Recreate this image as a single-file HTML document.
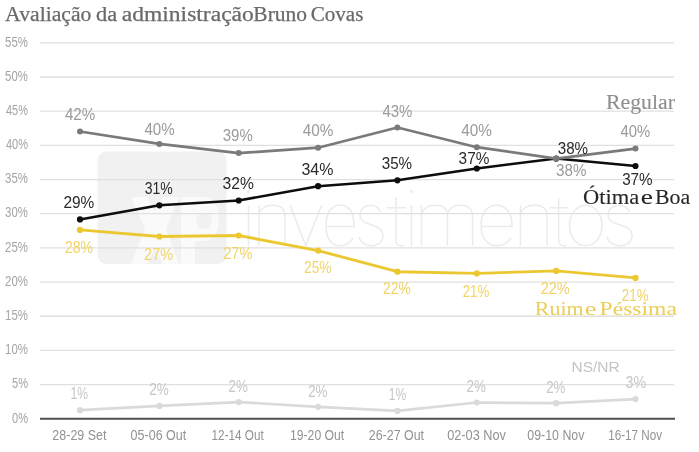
<!DOCTYPE html>
<html><head><meta charset="utf-8">
<style>
html,body{margin:0;padding:0;background:#fff;width:699px;height:452px;overflow:hidden}
svg{display:block;will-change:transform}
</style></head><body>
<svg width="699" height="452" viewBox="0 0 699 452">
<rect width="699" height="452" fill="#fff"/>
<rect x="97.5" y="151.5" width="129" height="112.5" rx="9" fill="#f1f1f1"/>
<path d="M131,197 L147,197 L155,211 L163,197 L179,197 L166,229 L179,264 L163,264 L155,248 L147,264 L131,264 L145,229 Z" fill="#fafafa"/>
<path d="M181,197 H204 C215,197 219,208 219,220 C219,233 212,241 204,241 H195 V264 H181 Z" fill="#fafafa"/>
<circle cx="204" cy="221" r="8" fill="#f1f1f1"/>
<g fill="none" stroke="#ebebeb" stroke-width="1.5"><path d="M248.5,205.2 V245.8"/><path d="M259,205.2 V245.8"/><path d="M259,214.2 C261,207.7 265,205.2 272.5,205.2 C282,205.2 285,209.2 285,217.2 V245.8"/><path d="M290,205.2 L305.7,245.8 L321.5,205.2"/><path d="M327,226.5 H354 C354,211.2 348.0,205.2 340.0,205.2 C331.0,205.2 326,213.2 326,225.5 C326,237.8 331.0,245.8 340.0,245.8 C346.0,245.8 350,242.8 353,237.8"/><path d="M381,212.2 C378,207.2 375.8,205.2 371.0,205.2 C364,205.2 360,210.2 360,215.2 C360,227.2 383,222.2 383,235.8 C383,242.8 377.0,245.8 371.0,245.8 C365,245.8 360,241.8 359,236.8"/><path d="M396,197 V239.8 C396,244.8 398,245.8 401,245.8 H404 M386.6,207.7 H406"/><path d="M411.5,205.2 V245.8"/><path d="M421.5,205.2 V245.8"/><path d="M421.5,214.2 C423.5,207.7 427.5,205.2 434.95,205.2 C444.4,205.2 447.4,209.2 447.4,217.2 V245.8"/><path d="M447.4,214.2 C449.4,207.7 453.4,205.2 460.5,205.2 C469.6,205.2 472.6,209.2 472.6,217.2 V245.8"/><path d="M482,226.5 H512 C512,211.2 504.5,205.2 496.5,205.2 C487.5,205.2 481,213.2 481,225.5 C481,237.8 487.5,245.8 496.5,245.8 C502.5,245.8 508,242.8 511,237.8"/><path d="M520.4,205.2 V245.8"/><path d="M520.4,214.2 C522.4,207.7 526.4,205.2 534.2,205.2 C544,205.2 547,209.2 547,217.2 V245.8"/><path d="M558.7,198 V239.8 C558.7,244.8 560.7,245.8 563.7,245.8 H566.7 M549.4,207.7 H568"/><path d="M585.75,205.2 A16.25,20.30000000000001 0 1 0 585.75,245.8 A16.25,20.30000000000001 0 1 0 585.75,205.2"/><path d="M630,212.2 C627,207.2 624.5,205.2 619.5,205.2 C612,205.2 608,210.2 608,215.2 C608,227.2 632,222.2 632,235.8 C632,242.8 625.75,245.8 619.5,245.8 C613,245.8 608,241.8 607,236.8"/></g><circle cx="248.5" cy="191.5" r="1.5" fill="#ececec"/><circle cx="411.5" cy="191.5" r="1.5" fill="#ececec"/>
<line x1="40" x2="674" y1="384.62" y2="384.62" stroke="#e0e0e0" stroke-width="1.3"/>
<line x1="40" x2="674" y1="350.44" y2="350.44" stroke="#e0e0e0" stroke-width="1.3"/>
<line x1="40" x2="674" y1="316.26" y2="316.26" stroke="#e0e0e0" stroke-width="1.3"/>
<line x1="40" x2="674" y1="282.08" y2="282.08" stroke="#e0e0e0" stroke-width="1.3"/>
<line x1="40" x2="674" y1="247.90" y2="247.90" stroke="#e0e0e0" stroke-width="1.3"/>
<line x1="40" x2="674" y1="213.72" y2="213.72" stroke="#e0e0e0" stroke-width="1.3"/>
<line x1="40" x2="674" y1="179.54" y2="179.54" stroke="#e0e0e0" stroke-width="1.3"/>
<line x1="40" x2="674" y1="145.36" y2="145.36" stroke="#e0e0e0" stroke-width="1.3"/>
<line x1="40" x2="674" y1="111.18" y2="111.18" stroke="#e0e0e0" stroke-width="1.3"/>
<line x1="40" x2="674" y1="77.00" y2="77.00" stroke="#e0e0e0" stroke-width="1.3"/>
<line x1="40" x2="674" y1="42.82" y2="42.82" stroke="#e0e0e0" stroke-width="1.3"/>

<line x1="40" x2="675" y1="418.8" y2="418.8" stroke="#505050" stroke-width="2"/>
<polyline points="80.0,410.2 159.4,405.9 238.7,402.1 318.1,406.8 397.4,410.9 476.8,402.5 556.2,403.2 635.5,399.1" fill="none" stroke="#dadada" stroke-width="2.7" stroke-linejoin="round"/>
<circle cx="80.0" cy="410.2" r="3.1" fill="#dadada"/>
<circle cx="159.4" cy="405.9" r="3.1" fill="#dadada"/>
<circle cx="238.7" cy="402.1" r="3.1" fill="#dadada"/>
<circle cx="318.1" cy="406.8" r="3.1" fill="#dadada"/>
<circle cx="397.4" cy="410.9" r="3.1" fill="#dadada"/>
<circle cx="476.8" cy="402.5" r="3.1" fill="#dadada"/>
<circle cx="556.2" cy="403.2" r="3.1" fill="#dadada"/>
<circle cx="635.5" cy="399.1" r="3.1" fill="#dadada"/>

<polyline points="80.0,229.9 159.4,236.5 238.7,235.5 318.1,250.6 397.4,271.7 476.8,273.4 556.2,270.9 635.5,277.9" fill="none" stroke="#ebc832" stroke-width="2.9" stroke-linejoin="round"/>
<circle cx="80.0" cy="229.9" r="3.1" fill="#ebc832"/>
<circle cx="159.4" cy="236.5" r="3.1" fill="#ebc832"/>
<circle cx="238.7" cy="235.5" r="3.1" fill="#ebc832"/>
<circle cx="318.1" cy="250.6" r="3.1" fill="#ebc832"/>
<circle cx="397.4" cy="271.7" r="3.1" fill="#ebc832"/>
<circle cx="476.8" cy="273.4" r="3.1" fill="#ebc832"/>
<circle cx="556.2" cy="270.9" r="3.1" fill="#ebc832"/>
<circle cx="635.5" cy="277.9" r="3.1" fill="#ebc832"/>

<polyline points="80.0,219.4 159.4,205.3 238.7,200.5 318.1,186.2 397.4,180.3 476.8,168.5 556.2,158.6 635.5,166.0" fill="none" stroke="#0d0d0d" stroke-width="2.5" stroke-linejoin="round"/>
<circle cx="80.0" cy="219.4" r="3.1" fill="#0d0d0d"/>
<circle cx="159.4" cy="205.3" r="3.1" fill="#0d0d0d"/>
<circle cx="238.7" cy="200.5" r="3.1" fill="#0d0d0d"/>
<circle cx="318.1" cy="186.2" r="3.1" fill="#0d0d0d"/>
<circle cx="397.4" cy="180.3" r="3.1" fill="#0d0d0d"/>
<circle cx="476.8" cy="168.5" r="3.1" fill="#0d0d0d"/>
<circle cx="556.2" cy="158.6" r="3.1" fill="#0d0d0d"/>
<circle cx="635.5" cy="166.0" r="3.1" fill="#0d0d0d"/>

<polyline points="80.0,131.5 159.4,143.9 238.7,153.1 318.1,147.7 397.4,127.5 476.8,147.2 556.2,158.6 635.5,148.6" fill="none" stroke="#7a7a7a" stroke-width="2.7" stroke-linejoin="round"/>
<circle cx="80.0" cy="131.5" r="3.0" fill="#7a7a7a"/>
<circle cx="159.4" cy="143.9" r="3.0" fill="#7a7a7a"/>
<circle cx="238.7" cy="153.1" r="3.0" fill="#7a7a7a"/>
<circle cx="318.1" cy="147.7" r="3.0" fill="#7a7a7a"/>
<circle cx="397.4" cy="127.5" r="3.0" fill="#7a7a7a"/>
<circle cx="476.8" cy="147.2" r="3.0" fill="#7a7a7a"/>
<circle cx="556.2" cy="158.6" r="3.0" fill="#7a7a7a"/>
<circle cx="635.5" cy="148.6" r="3.0" fill="#7a7a7a"/>

<text x="5.14" y="20.60" font-family="Liberation Serif" font-size="20.5" fill="#6a6a6a" stroke="#6a6a6a" stroke-width="0.25" textLength="86.27" lengthAdjust="spacingAndGlyphs">Avaliação</text>
<text x="96.11" y="20.60" font-family="Liberation Serif" font-size="20.5" fill="#6a6a6a" stroke="#6a6a6a" stroke-width="0.25" textLength="21.19" lengthAdjust="spacingAndGlyphs">da</text>
<text x="121.75" y="20.60" font-family="Liberation Serif" font-size="20.5" fill="#6a6a6a" stroke="#6a6a6a" stroke-width="0.25" textLength="132.08" lengthAdjust="spacingAndGlyphs">administração</text>
<text x="253.35" y="20.60" font-family="Liberation Serif" font-size="20.5" fill="#6a6a6a" stroke="#6a6a6a" stroke-width="0.25" textLength="53.61" lengthAdjust="spacingAndGlyphs">Bruno</text>
<text x="310.67" y="20.60" font-family="Liberation Serif" font-size="20.5" fill="#6a6a6a" stroke="#6a6a6a" stroke-width="0.25" textLength="52.79" lengthAdjust="spacingAndGlyphs">Covas</text>
<text x="606.04" y="108.60" font-family="Liberation Serif" font-size="20.5" fill="#8e8e8e" stroke="#8e8e8e" stroke-width="0.1" textLength="68.96" lengthAdjust="spacingAndGlyphs">Regular</text>
<text x="582.99" y="203.70" font-family="Liberation Serif" font-size="20.3" fill="#262626" stroke="#262626" stroke-width="0.1" textLength="56.19" lengthAdjust="spacingAndGlyphs">Ótima</text>
<text x="640.86" y="203.70" font-family="Liberation Serif" font-size="20.3" fill="#262626" stroke="#262626" stroke-width="0.1" textLength="12.11" lengthAdjust="spacingAndGlyphs">e</text>
<text x="654.92" y="203.70" font-family="Liberation Serif" font-size="20.3" fill="#262626" stroke="#262626" stroke-width="0.1" textLength="35.20" lengthAdjust="spacingAndGlyphs">Boa</text>
<text x="534.89" y="314.50" font-family="Liberation Serif" font-size="19.8" fill="#ecce55" textLength="48.78" lengthAdjust="spacingAndGlyphs">Ruim</text>
<text x="584.87" y="314.50" font-family="Liberation Serif" font-size="19.8" fill="#ecce55" textLength="11.67" lengthAdjust="spacingAndGlyphs">e</text>
<text x="599.61" y="314.50" font-family="Liberation Serif" font-size="19.8" fill="#ecce55" textLength="77.30" lengthAdjust="spacingAndGlyphs">Péssima</text>
<text x="571.57" y="371.70" font-family="Liberation Sans" font-size="15" fill="#c4c4c4" textLength="48.12" lengthAdjust="spacingAndGlyphs">NS/NR</text>
<text x="12.11" y="422.50" font-family="Liberation Sans" font-size="14" fill="#a4a4a4" textLength="15.97" lengthAdjust="spacingAndGlyphs">0%</text>
<text x="12.11" y="388.32" font-family="Liberation Sans" font-size="14" fill="#a4a4a4" textLength="15.97" lengthAdjust="spacingAndGlyphs">5%</text>
<text x="5.09" y="354.14" font-family="Liberation Sans" font-size="14" fill="#a4a4a4" textLength="22.84" lengthAdjust="spacingAndGlyphs">10%</text>
<text x="5.09" y="319.96" font-family="Liberation Sans" font-size="14" fill="#a4a4a4" textLength="22.84" lengthAdjust="spacingAndGlyphs">15%</text>
<text x="5.09" y="285.78" font-family="Liberation Sans" font-size="14" fill="#a4a4a4" textLength="22.84" lengthAdjust="spacingAndGlyphs">20%</text>
<text x="5.09" y="251.60" font-family="Liberation Sans" font-size="14" fill="#a4a4a4" textLength="22.84" lengthAdjust="spacingAndGlyphs">25%</text>
<text x="5.09" y="217.42" font-family="Liberation Sans" font-size="14" fill="#a4a4a4" textLength="22.84" lengthAdjust="spacingAndGlyphs">30%</text>
<text x="5.09" y="183.24" font-family="Liberation Sans" font-size="14" fill="#a4a4a4" textLength="22.84" lengthAdjust="spacingAndGlyphs">35%</text>
<text x="5.90" y="149.06" font-family="Liberation Sans" font-size="14" fill="#a4a4a4" textLength="22.02" lengthAdjust="spacingAndGlyphs">40%</text>
<text x="5.90" y="114.88" font-family="Liberation Sans" font-size="14" fill="#a4a4a4" textLength="22.02" lengthAdjust="spacingAndGlyphs">45%</text>
<text x="5.09" y="80.70" font-family="Liberation Sans" font-size="14" fill="#a4a4a4" textLength="22.84" lengthAdjust="spacingAndGlyphs">50%</text>
<text x="5.09" y="46.52" font-family="Liberation Sans" font-size="14" fill="#a4a4a4" textLength="22.84" lengthAdjust="spacingAndGlyphs">55%</text>
<text x="52.37" y="440.30" font-family="Liberation Sans" font-size="14.1" fill="#929292" textLength="54.10" lengthAdjust="spacingAndGlyphs">28-29 Set</text>
<text x="130.61" y="440.30" font-family="Liberation Sans" font-size="14.1" fill="#929292" textLength="55.61" lengthAdjust="spacingAndGlyphs">05-06 Out</text>
<text x="211.62" y="440.30" font-family="Liberation Sans" font-size="14.1" fill="#929292" textLength="52.07" lengthAdjust="spacingAndGlyphs">12-14 Out</text>
<text x="289.98" y="440.30" font-family="Liberation Sans" font-size="14.1" fill="#929292" textLength="54.30" lengthAdjust="spacingAndGlyphs">19-20 Out</text>
<text x="368.77" y="440.30" font-family="Liberation Sans" font-size="14.1" fill="#929292" textLength="55.31" lengthAdjust="spacingAndGlyphs">26-27 Out</text>
<text x="447.15" y="440.30" font-family="Liberation Sans" font-size="14.1" fill="#929292" textLength="58.83" lengthAdjust="spacingAndGlyphs">02-03 Nov</text>
<text x="527.32" y="440.30" font-family="Liberation Sans" font-size="14.1" fill="#929292" textLength="57.11" lengthAdjust="spacingAndGlyphs">09-10 Nov</text>
<text x="608.17" y="440.30" font-family="Liberation Sans" font-size="14.1" fill="#929292" textLength="53.85" lengthAdjust="spacingAndGlyphs">16-17 Nov</text>
<text x="64.90" y="120.10" font-family="Liberation Sans" font-size="15.6" fill="#9a9a9a" textLength="30.41" lengthAdjust="spacingAndGlyphs">42%</text>
<text x="144.40" y="135.00" font-family="Liberation Sans" font-size="15.6" fill="#9a9a9a" textLength="30.31" lengthAdjust="spacingAndGlyphs">40%</text>
<text x="222.74" y="141.00" font-family="Liberation Sans" font-size="15.6" fill="#9a9a9a" textLength="30.07" lengthAdjust="spacingAndGlyphs">39%</text>
<text x="302.80" y="135.90" font-family="Liberation Sans" font-size="15.6" fill="#9a9a9a" textLength="30.72" lengthAdjust="spacingAndGlyphs">40%</text>
<text x="382.50" y="116.60" font-family="Liberation Sans" font-size="15.6" fill="#9a9a9a" textLength="29.91" lengthAdjust="spacingAndGlyphs">43%</text>
<text x="461.20" y="135.70" font-family="Liberation Sans" font-size="15.6" fill="#9a9a9a" textLength="30.72" lengthAdjust="spacingAndGlyphs">40%</text>
<text x="556.03" y="175.80" font-family="Liberation Sans" font-size="15.6" fill="#9a9a9a" textLength="30.39" lengthAdjust="spacingAndGlyphs">38%</text>
<text x="620.50" y="137.20" font-family="Liberation Sans" font-size="15.6" fill="#9a9a9a" textLength="29.81" lengthAdjust="spacingAndGlyphs">40%</text>
<text x="63.41" y="208.00" font-family="Liberation Sans" font-size="15.6" fill="#2a2a2a" textLength="30.91" lengthAdjust="spacingAndGlyphs">29%</text>
<text x="144.80" y="193.60" font-family="Liberation Sans" font-size="15.6" fill="#2a2a2a" textLength="27.99" lengthAdjust="spacingAndGlyphs">31%</text>
<text x="222.50" y="188.50" font-family="Liberation Sans" font-size="15.6" fill="#2a2a2a" textLength="31.32" lengthAdjust="spacingAndGlyphs">32%</text>
<text x="301.48" y="174.90" font-family="Liberation Sans" font-size="15.6" fill="#2a2a2a" textLength="31.95" lengthAdjust="spacingAndGlyphs">34%</text>
<text x="381.73" y="168.60" font-family="Liberation Sans" font-size="15.6" fill="#2a2a2a" textLength="30.39" lengthAdjust="spacingAndGlyphs">35%</text>
<text x="458.62" y="164.40" font-family="Liberation Sans" font-size="15.6" fill="#2a2a2a" textLength="30.70" lengthAdjust="spacingAndGlyphs">37%</text>
<text x="557.73" y="153.50" font-family="Liberation Sans" font-size="15.6" fill="#2a2a2a" textLength="30.39" lengthAdjust="spacingAndGlyphs">38%</text>
<text x="622.13" y="184.90" font-family="Liberation Sans" font-size="15.6" fill="#2a2a2a" textLength="30.39" lengthAdjust="spacingAndGlyphs">37%</text>
<text x="65.00" y="252.90" font-family="Liberation Sans" font-size="15.6" fill="#f0d468" textLength="27.99" lengthAdjust="spacingAndGlyphs">28%</text>
<text x="144.06" y="260.00" font-family="Liberation Sans" font-size="15.6" fill="#f0d468" textLength="29.24" lengthAdjust="spacingAndGlyphs">27%</text>
<text x="223.16" y="259.00" font-family="Liberation Sans" font-size="15.6" fill="#f0d468" textLength="29.24" lengthAdjust="spacingAndGlyphs">27%</text>
<text x="304.02" y="273.00" font-family="Liberation Sans" font-size="15.6" fill="#f0d468" textLength="27.47" lengthAdjust="spacingAndGlyphs">25%</text>
<text x="383.01" y="294.40" font-family="Liberation Sans" font-size="15.6" fill="#f0d468" textLength="27.68" lengthAdjust="spacingAndGlyphs">22%</text>
<text x="462.65" y="296.60" font-family="Liberation Sans" font-size="15.6" fill="#f0d468" textLength="26.54" lengthAdjust="spacingAndGlyphs">21%</text>
<text x="540.67" y="293.60" font-family="Liberation Sans" font-size="15.6" fill="#f0d468" textLength="29.14" lengthAdjust="spacingAndGlyphs">22%</text>
<text x="621.85" y="300.50" font-family="Liberation Sans" font-size="15.6" fill="#f0d468" textLength="26.64" lengthAdjust="spacingAndGlyphs">21%</text>
<text x="70.42" y="399.40" font-family="Liberation Sans" font-size="15.6" fill="#c6c6c6" textLength="17.50" lengthAdjust="spacingAndGlyphs">1%</text>
<text x="149.13" y="394.70" font-family="Liberation Sans" font-size="15.6" fill="#c6c6c6" textLength="19.54" lengthAdjust="spacingAndGlyphs">2%</text>
<text x="228.54" y="392.00" font-family="Liberation Sans" font-size="15.6" fill="#c6c6c6" textLength="19.33" lengthAdjust="spacingAndGlyphs">2%</text>
<text x="308.14" y="396.80" font-family="Liberation Sans" font-size="15.6" fill="#c6c6c6" textLength="19.33" lengthAdjust="spacingAndGlyphs">2%</text>
<text x="388.83" y="399.90" font-family="Liberation Sans" font-size="15.6" fill="#c6c6c6" textLength="17.39" lengthAdjust="spacingAndGlyphs">1%</text>
<text x="466.54" y="391.90" font-family="Liberation Sans" font-size="15.6" fill="#c6c6c6" textLength="19.33" lengthAdjust="spacingAndGlyphs">2%</text>
<text x="546.14" y="392.90" font-family="Liberation Sans" font-size="15.6" fill="#c6c6c6" textLength="19.33" lengthAdjust="spacingAndGlyphs">2%</text>
<text x="625.58" y="387.90" font-family="Liberation Sans" font-size="15.6" fill="#c6c6c6" textLength="20.72" lengthAdjust="spacingAndGlyphs">3%</text>
</svg>
</body></html>
